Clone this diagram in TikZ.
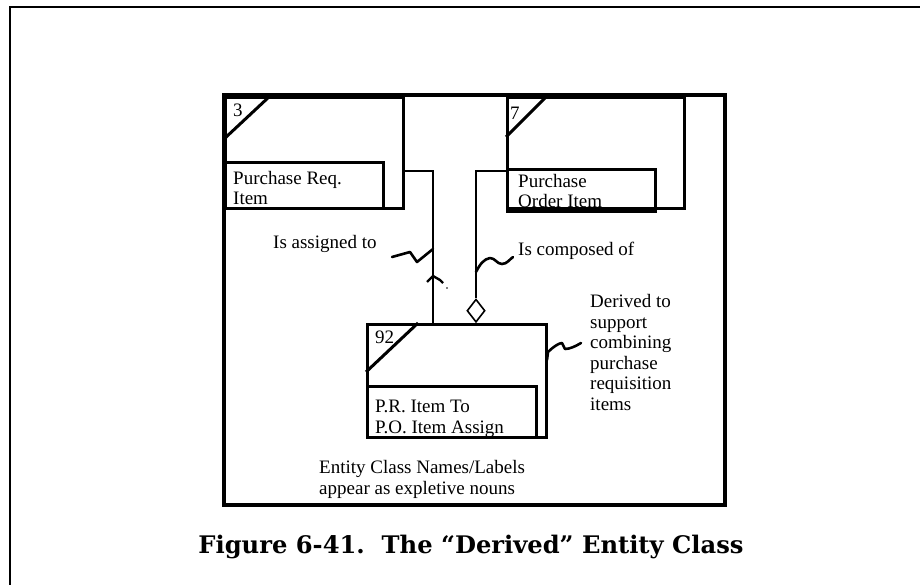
\documentclass[tikz,border=0pt]{standalone}
\usepackage{fontspec}
\setmainfont{Liberation Serif}
\newfontfamily\capfont{DejaVu Serif}
\usetikzlibrary{shapes.geometric}
\begin{document}
\begin{tikzpicture}[x=1pt,y=-1pt,
  txt/.style={inner sep=0pt,anchor=base west,align=left,font=\fontsize{19}{20.5}\selectfont},
  boxline/.style={line width=3pt},
  conn/.style={line width=2.4pt},
  squig/.style={line width=2.6pt,line join=round,line cap=round},
  frame/.style={line width=3.8pt},
  ent/.style={draw,boxline,inner sep=0pt,anchor=north west}]
\useasboundingbox (0,0) rectangle (920,585);
% outer partial frame
\draw[line width=2.4pt] (10,585) -- (10,7) -- (920,7);
% inner frame
\node[draw,frame,inner sep=0pt,anchor=north west,minimum width=501pt,minimum height=410pt] (fr) at (222,93) {};

% entity 3
\node[ent,minimum width=178pt,minimum height=111pt] (e3) at (224,96) {};
\node[txt] (n3) at (233,117) {3};
\draw[boxline] (270,96) -- (224,139);
\node[txt] (t3) at (233,205) {Purchase Req.\\Item};
\node[ent,minimum width=158pt,minimum height=46pt] (b3) at (224,161) {};

% entity 7
\node[ent,minimum width=177pt,minimum height=111pt] (e7) at (506,96) {};
\node[txt] (n7) at (510,120) {7};
\draw[boxline] (547,96) -- (506,137);
\node[txt] (t7) at (518,208) {Purchase\\Order Item};
\node[ent,minimum width=148pt,minimum height=42pt] (b7) at (506,168) {};

% entity 92
\node[ent,minimum width=179pt,minimum height=113pt] (e92) at (366,323) {};
\node[txt] (n92) at (375,343) {92};
\draw[boxline] (418,323) -- (366,372);
\node[txt] (t92) at (375,433) {P.R. Item To\\P.O. Item Assign};
\node[ent,minimum width=169pt,minimum height=51pt] (b92) at (366,385) {};

% connector from 3 to 92
\coordinate (a1) at (433,171);
\coordinate (a2) at (433,323);
\coordinate (ah) at (433,276);
\draw[conn] (e3.east |- a1) -- (a1) -- (a2);
\draw[conn,line join=miter] (427,282) -- (ah) -- (440,280) -- (443,283);
\fill (447,288) circle (0.9pt);

% connector from 92 to 7 with diamond
\coordinate (c1) at (476,171);
\node[diamond,draw,line width=1.6pt,inner sep=0pt,minimum width=18pt,minimum height=23pt,anchor=south] (dm) at (476,323) {};
\draw[conn] (e7.west |- c1) -- (c1) -- (dm.north);

% squiggles
\coordinate (s1) at (433,249);
\draw[squig] (392,257) -- (410,252) -- (417,262) -- (s1);
\coordinate (s2) at (476,272);
\draw[squig] (s2) .. controls (480,264) and (484,259) .. (490,258) .. controls (495,258) and (497,264) .. (502,264) .. controls (507,264) and (510,259) .. (513,257);
\coordinate (s3) at (547,360);
\draw[squig] (s3) -- (548,352) .. controls (553,347) and (559,343) .. (562,343) -- (565,349) .. controls (570,349) and (576,346) .. (581,343);

% labels
\node[txt] (l1) at (273,248) {Is assigned to};
\node[txt] (l2) at (518,255) {Is composed of};
\node[txt] (l3) at (590,410) {Derived to\\support\\combining\\purchase\\requisition\\items};
\node[txt] (l4) at (319,494) {Entity Class Names/Labels\\appear as expletive nouns};

% caption
\node[inner sep=0pt,anchor=base,font=\capfont\bfseries\fontsize{24.2}{28}\selectfont] (cap) at (471,553) {Figure 6-41.\ \ The “Derived” Entity Class};
\end{tikzpicture}
\end{document}
